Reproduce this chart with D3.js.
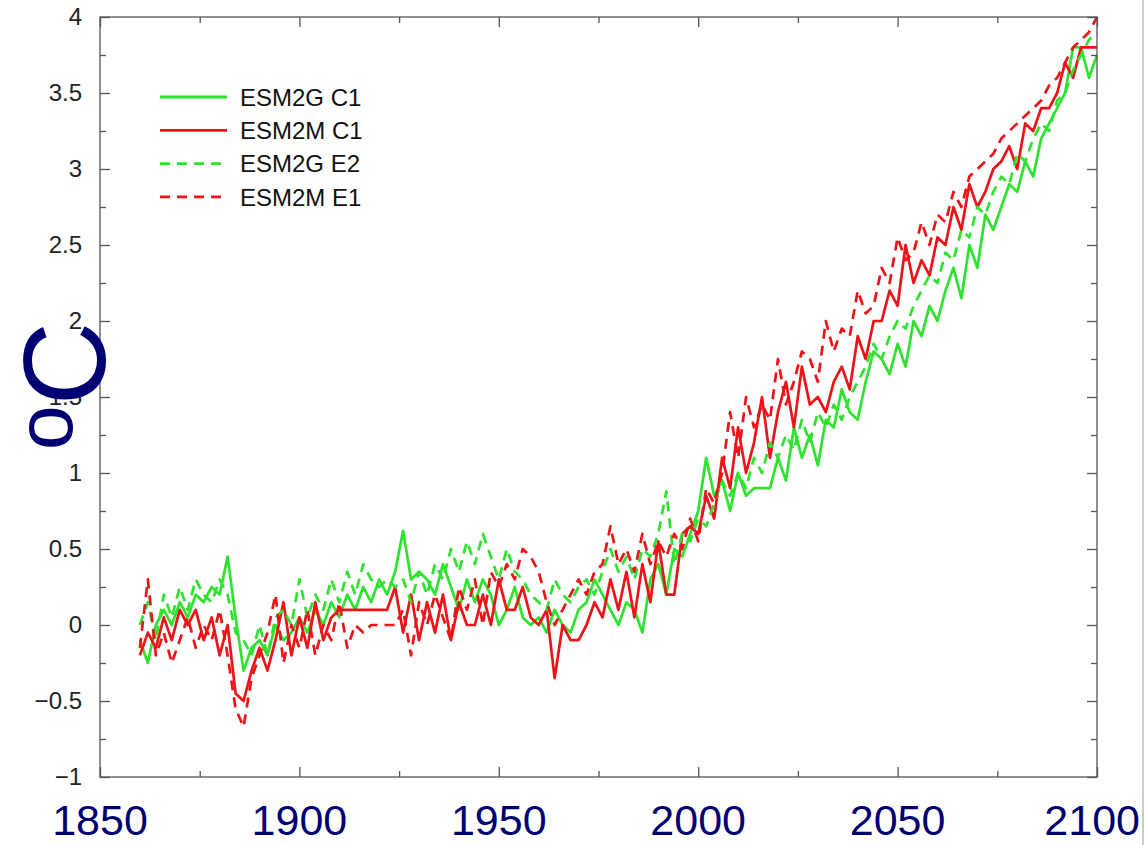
<!DOCTYPE html>
<html>
<head>
<meta charset="utf-8">
<script src="https://cdn.jsdelivr.net/npm/d3@7"></script>
<style>
  body { margin: 0; background: #fff; }
  svg { display: block; }
</style>
</head>
<body>
<div id="chart"></div>
<script>
/* DATA */

// one value every 2 years, 1860 .. 2100
const years = d3.range(1860, 2101, 2);

const esm2gC1 = [
  -0.1, -0.25, 0.0, 0.1, 0.0, 0.15, 0.05, 0.2, 0.15, 0.25,
  0.2, 0.45, 0.05, -0.3, -0.15, -0.1, -0.2, 0.0, -0.1, -0.05,
  0.05, -0.05, 0.1, 0.0, 0.15, 0.05, 0.2, 0.1, 0.25, 0.15,
  0.3, 0.2, 0.35, 0.62, 0.3, 0.35, 0.3, 0.2, 0.4, 0.25,
  0.1, 0.3, 0.15, 0.3, 0.2, 0.0, 0.1, 0.25, 0.05, 0.0,
  0.05, -0.05, 0.1, 0.0, -0.05, 0.1, 0.15, 0.3, 0.2, 0.1,
  0.0, 0.15, 0.1, -0.05, 0.3, 0.4, 0.2, 0.5, 0.45, 0.6,
  0.75, 1.1, 0.85, 0.95, 0.75, 1.0, 0.85, 0.9, 0.9, 0.9,
  1.1, 0.95, 1.3, 1.1, 1.25, 1.05, 1.35, 1.3, 1.55, 1.4,
  1.35, 1.6, 1.8, 1.75, 1.65, 1.85, 1.7, 2.0, 1.9, 2.1,
  2.0, 2.2, 2.35, 2.15, 2.5, 2.35, 2.7, 2.6, 2.75, 2.9,
  2.85, 3.05, 2.95, 3.2, 3.3, 3.4, 3.5, 3.8, 3.8, 3.6,
  3.75
];

const esm2mC1 = [
  -0.2, -0.05, -0.15, 0.05, -0.1, 0.1, 0.0, 0.1, -0.1, 0.05,
  -0.2, 0.0, -0.45, -0.5, -0.3, -0.15, -0.3, -0.1, 0.15, -0.2,
  0.05, -0.15, 0.15, -0.1, 0.05, 0.1, 0.1, 0.1, 0.1, 0.1,
  0.1, 0.1, 0.25, -0.05, 0.2, -0.1, 0.15, -0.05, 0.2, -0.1,
  0.15, 0.0, 0.0, 0.2, 0.0, 0.3, 0.1, 0.1, 0.25, 0.05,
  0.0, 0.1, -0.35, 0.0, -0.1, -0.1, 0.0, 0.15, 0.05, 0.3,
  0.1, 0.35, 0.05, 0.4, 0.15, 0.55, 0.2, 0.2, 0.6, 0.65,
  0.6, 0.85, 0.7, 1.1, 0.9, 1.3, 1.0, 1.2, 1.5, 1.1,
  1.4, 1.6, 1.3, 1.7, 1.45, 1.5, 1.4, 1.6, 1.7, 1.55,
  1.9, 1.75, 2.0, 2.0, 2.2, 2.1, 2.5, 2.25, 2.4, 2.3,
  2.55, 2.5, 2.75, 2.6, 2.9, 2.75, 2.85, 3.0, 3.05, 3.15,
  3.0, 3.3, 3.25, 3.4, 3.4, 3.5, 3.7, 3.6, 3.8, 3.8,
  3.8
];

const esm2gE2 = [
  0.0, 0.15, -0.1, 0.2, 0.05, 0.25, 0.1, 0.3, 0.2, 0.15,
  0.3, 0.2, -0.05, -0.1, -0.2, 0.0, -0.2, 0.05, 0.1, 0.0,
  0.3, 0.05, 0.2, 0.1, 0.3, 0.15, 0.35, 0.2, 0.4, 0.3,
  0.25, 0.3, 0.25, 0.3, 0.15, 0.35, 0.2, 0.4, 0.3, 0.5,
  0.35, 0.55, 0.4, 0.6, 0.45, 0.3, 0.5, 0.35, 0.3, 0.2,
  0.15, 0.1, 0.3, 0.2, 0.15, 0.25, 0.3, 0.2, 0.35, 0.5,
  0.35, 0.45, 0.3, 0.5, 0.45, 0.6, 0.88, 0.4, 0.6, 0.55,
  0.7, 0.65, 0.8, 0.95, 0.85, 1.0, 0.9, 1.1, 1.0, 1.2,
  1.1, 1.25, 1.15, 1.35, 1.2, 1.4, 1.3, 1.45, 1.35, 1.5,
  1.6, 1.7, 1.85, 1.75, 1.9, 2.0, 1.95, 2.1, 2.2, 2.3,
  2.25, 2.45, 2.4, 2.6, 2.55, 2.75, 2.7, 2.85, 2.95, 2.9,
  3.1, 3.05, 3.2, 3.3, 3.25, 3.45, 3.5, 3.65, 3.75, 3.85,
  3.9
];

const esm2mE1 = [
  -0.15, 0.3, -0.2, -0.05, -0.25, -0.1, 0.05, -0.15, 0.0, -0.1,
  0.1, -0.2, -0.55, -0.67, -0.35, -0.2, -0.05, 0.2, -0.25, 0.0,
  -0.15, 0.1, -0.2, 0.0, -0.1, 0.15, -0.15, 0.0, -0.05, 0.0,
  0.0, 0.0, 0.0, 0.1, -0.2, 0.15, 0.0, 0.2, 0.05, -0.1,
  0.25, 0.1, 0.3, 0.0, 0.35, 0.25, 0.4, 0.3, 0.5, 0.45,
  0.35, 0.15, 0.0, 0.1, 0.2, 0.3, 0.2, 0.35, 0.4, 0.65,
  0.4, 0.5, 0.35, 0.6, 0.4, 0.55, 0.45, 0.6, 0.5, 0.7,
  0.55, 0.9, 0.8, 1.0, 1.4, 1.1, 1.5, 1.3, 1.45, 1.35,
  1.75, 1.45, 1.6, 1.8, 1.75, 1.6, 2.0, 1.8, 1.95, 1.9,
  2.2, 2.05, 2.1, 2.35, 2.25, 2.55, 2.4, 2.45, 2.65, 2.5,
  2.7, 2.65, 2.85, 2.75, 2.95, 3.0, 3.05, 3.1, 3.2, 3.25,
  3.3, 3.35, 3.4, 3.45, 3.55, 3.6, 3.7, 3.8, 3.85, 3.9,
  4.0
];

const seriesNames = ["ESM2G C1", "ESM2M C1", "ESM2G E2", "ESM2M E1"];
const yMajorTicks = [-1, -0.5, 0, 0.5, 1, 1.5, 2, 2.5, 3, 3.5, 4];
const yMinorTicks = [-0.75, -0.25, 0.25, 0.75, 1.25, 1.75, 2.25, 2.75, 3.25, 3.75];
const xMajorTicks = [1850, 1900, 1950, 2000, 2050, 2100];
const xMinorTicks = [1875, 1925, 1975, 2025, 2075];
const yearLabels = ["1850", "1900", "1950", "2000", "2050", "2100"];

/* CONSTANTS */
const W = 1146, H = 845;
const margin = { top: 17, right: 49, bottom: 68, left: 100 };
const green = "#2ee32e", red = "#ec1418", navy = "#000072";
const font = "Liberation Sans, Arial, sans-serif";

const series = [
  { name: seriesNames[0], values: esm2gC1, color: green, dash: null },
  { name: seriesNames[1], values: esm2mC1, color: red, dash: null },
  { name: seriesNames[2], values: esm2gE2, color: green, dash: "10,7" },
  { name: seriesNames[3], values: esm2mE1, color: red, dash: "10,7" }
];

const svg = d3.select("#chart").append("svg")
  .attr("width", W)
  .attr("height", H);

const x = d3.scaleLinear().domain([1850, 2100]).range([margin.left, W - margin.right]);
const y = d3.scaleLinear().domain([-1, 4]).range([H - margin.bottom, margin.top]);

// lines
const line = d3.line()
  .x((d, i) => x(years[i]))
  .y(d => y(d));

svg.append("g")
  .selectAll("path")
  .data(series)
  .join("path")
  .attr("d", d => line(d.values))
  .attr("fill", "none")
  .attr("stroke", d => d.color)
  .attr("stroke-width", 2.7)
  .attr("stroke-linejoin", "round")
  .attr("stroke-dasharray", d => d.dash);

// frame
svg.append("rect")
  .attr("x", x(1850)).attr("y", y(4))
  .attr("width", x(2100) - x(1850))
  .attr("height", y(-1) - y(4))
  .attr("fill", "none")
  .attr("stroke", "#555")
  .attr("stroke-width", 1.3);

const fmt = d3.format("");

function tickStyle(g) {
  g.select(".domain").remove();
  g.selectAll(".tick line").attr("stroke", "#555").attr("stroke-width", 1.3);
}

// left axis with labels
svg.append("g")
  .attr("transform", `translate(${x(1850)},0)`)
  .call(d3.axisLeft(y).tickValues(yMajorTicks).tickSize(-10).tickPadding(18).tickFormat(fmt))
  .call(tickStyle)
  .call(g => g.selectAll("text")
    .attr("font-family", font)
    .attr("font-size", 24)
    .attr("fill", "#222"));

svg.append("g")
  .attr("transform", `translate(${x(1850)},0)`)
  .call(d3.axisLeft(y).tickValues(yMinorTicks).tickSize(-6).tickFormat(""))
  .call(tickStyle);

// right axis ticks
svg.append("g")
  .attr("transform", `translate(${x(2100)},0)`)
  .call(d3.axisRight(y).tickValues(yMajorTicks).tickSize(-10).tickFormat(""))
  .call(tickStyle);

svg.append("g")
  .attr("transform", `translate(${x(2100)},0)`)
  .call(d3.axisRight(y).tickValues(yMinorTicks).tickSize(-6).tickFormat(""))
  .call(tickStyle);

// top and bottom ticks, pointing inward
[[d3.axisTop, y(4)], [d3.axisBottom, y(-1)]].forEach(([ax, pos]) => {
  svg.append("g")
    .attr("transform", `translate(0,${pos})`)
    .call(ax(x).tickValues(xMajorTicks).tickSize(-10).tickFormat(""))
    .call(tickStyle);
  svg.append("g")
    .attr("transform", `translate(0,${pos})`)
    .call(ax(x).tickValues(xMinorTicks).tickSize(-6).tickFormat(""))
    .call(tickStyle);
});

// legend
const legend = svg.append("g")
  .selectAll("g")
  .data(series)
  .join("g")
  .attr("transform", (d, i) => `translate(160,${97 + i * 33.3})`);

legend.append("line")
  .attr("x1", 0).attr("x2", 67)
  .attr("stroke", d => d.color)
  .attr("stroke-width", 2.8)
  .attr("stroke-dasharray", d => d.dash);

legend.append("text")
  .attr("x", 80)
  .attr("dy", "0.36em")
  .attr("font-family", font)
  .attr("font-size", 24)
  .attr("fill", "#111")
  .text(d => d.name);

// big year labels under the plot
svg.append("g")
  .selectAll("text")
  .data(yearLabels)
  .join("text")
  .attr("x", (d, i) => i === yearLabels.length - 1 ? W - 6 : x(+d))
  .attr("y", 835)
  .attr("text-anchor", (d, i) => i === yearLabels.length - 1 ? "end" : "middle")
  .attr("font-family", font)
  .attr("font-size", 43)
  .attr("fill", navy)
  .text(d => d);

// oC unit label
const unit = svg.append("text")
  .attr("transform", "translate(105,450) rotate(-90)")
  .attr("font-family", font)
  .attr("fill", navy);

unit.append("tspan").attr("font-size", 80).attr("dy", -33).text("o");
unit.append("tspan").attr("font-size", 116).attr("dy", 33).text("C");

// border line at right edge of the picture
svg.append("line")
  .attr("x1", 1143).attr("x2", 1143)
  .attr("y1", 0).attr("y2", H)
  .attr("stroke", "#bbb")
  .attr("stroke-width", 1.5);
</script>
</body>
</html>
